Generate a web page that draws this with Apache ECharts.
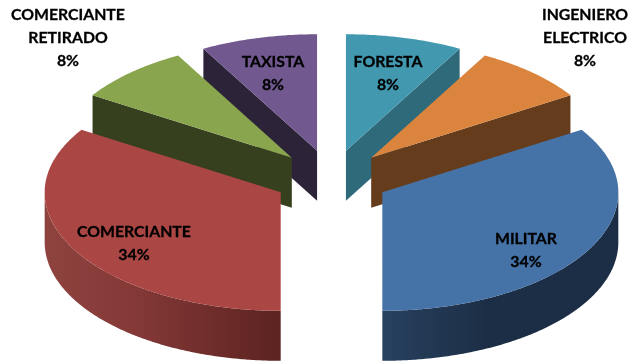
<!DOCTYPE html>
<html>
<head>
<meta charset="utf-8">
<style>html,body{margin:0;padding:0;background:#fff}#chart{width:629px;height:362px}</style>
<script src="https://cdn.jsdelivr.net/npm/echarts@6/dist/echarts.min.js"></script>
</head>
<body>
<div id="chart"></div>
<script>
// Occupations, clockwise from twelve o'clock, in percent.
const categories = ['FORESTA', 'INGENIERO\nELECTRICO', 'MILITAR', 'COMERCIANTE', 'COMERCIANTE\nRETIRADO', 'TAXISTA'];
const shares = [8, 8, 34, 34, 8, 8];

// Slice colours: top face and side wall, with a lighter or darker end for the curved walls.
const topColors = ['#4198AF', '#DB843D', '#4572A7', '#AA4643', '#89A54E', '#71588F'];
const wallColors = ['#2F6A7B', '#653D1D', '#1C2E45', '#8F433F', '#36401F', '#2D2339'];
const wallStops = [null, null,
  [[0, '#27415F'], [0.45, '#1C2E45'], [1, '#1C2E45']], [[0, '#8F433F'], [0.35, '#863A38'], [1, '#5C2320']],
  null, null];

// Label centres in page pixels.
const labelCentres = [[388, 73], [585, 38], [526, 250.5], [134, 243], [68, 38], [273, 73]];

// Tilted-disc projection parameters; the near half of the disc reads slightly deeper.
const CX = 331.5, CY = 178.5, RX = 236, RY_FAR = 116.5, RY_NEAR = 118.5, DEPTH = 50, EXPLODE = 58;

const total = shares.reduce((a, b) => a + b, 0);
const DEG = Math.PI / 180;
const starts = [];
shares.reduce((acc, v, i) => { starts[i] = acc; return acc + v / total * 360; }, 0);

function rim(apex, deg, drop) {
  const c = Math.cos(deg * DEG);
  return [apex[0] + RX * Math.sin(deg * DEG), apex[1] - (c > 0 ? RY_FAR : RY_NEAR) * c + drop];
}
function arc(apex, a, b, drop) {
  const pts = [];
  const n = Math.max(2, Math.ceil((b - a) * 2));
  for (let i = 0; i <= n; i++) pts.push(rim(apex, a + (b - a) * i / n, drop));
  return pts;
}

function renderSlice(params, api) {
  const i = params.dataIndex;
  const sweep = api.value(0) / total * 360;
  const a = starts[i], b = a + sweep, mid = a + sweep / 2;
  // Each slice is pulled out along its own bisector.
  const apex = [
    CX + EXPLODE * Math.sin(mid * DEG),
    CY - EXPLODE * Math.cos(mid * DEG) * RY_FAR / RX
  ];
  const nearness = Math.round(-Math.cos(mid * DEG) * 100);
  const base = apex.map((v, k) => k ? v + DEPTH : v);
  const children = [];
  const face = (points, fill, z2) => children.push({
    type: 'polygon', shape: { points }, style: { fill, stroke: null }, z2: nearness * 10 + z2
  });

  // Radial wall on the side of the slice that faces the viewer.
  const edge = b <= 180 ? b : (a >= 180 ? a : null);
  if (edge !== null) {
    face([apex, rim(apex, edge, 0), rim(apex, edge, DEPTH), base], wallColors[i], 0);
  }
  // Curved outer wall, only on the near half of the disc.
  const wa = Math.max(a, 90), wb = Math.min(b, 270);
  if (wb > wa) {
    const fill = wallStops[i]
      ? new echarts.graphic.LinearGradient(0, 0, 1, 0,
          wallStops[i].map(s => ({ offset: s[0], color: s[1] })))
      : wallColors[i];
    face(arc(apex, wa, wb, 0).concat(arc(apex, wa, wb, DEPTH).reverse()), fill, 1);
  }
  // Top face.
  face([apex].concat(arc(apex, a, b, 0)), topColors[i], 2);

  // Label: category name and its share.
  children.push({
    type: 'text',
    z2: 5000,
    style: {
      text: categories[i] + '\n' + api.value(0) + '%',
      x: labelCentres[i][0],
      y: labelCentres[i][1],
      align: 'center',
      verticalAlign: 'middle',
      font: 'bold 15.8px Lato',
      lineHeight: 23,
      fill: '#000',
      stroke: '#000',
      lineWidth: 0.3
    }
  });
  return { type: 'group', children };
}

const chart = echarts.init(document.getElementById('chart'), null, { renderer: 'canvas' });
chart.setOption({
  animation: false,
  backgroundColor: '#fff',
  series: [{
    type: 'custom',
    coordinateSystem: 'none',
    renderItem: renderSlice,
    data: shares.map(v => [v])
  }]
});
</script>
</body>
</html>
